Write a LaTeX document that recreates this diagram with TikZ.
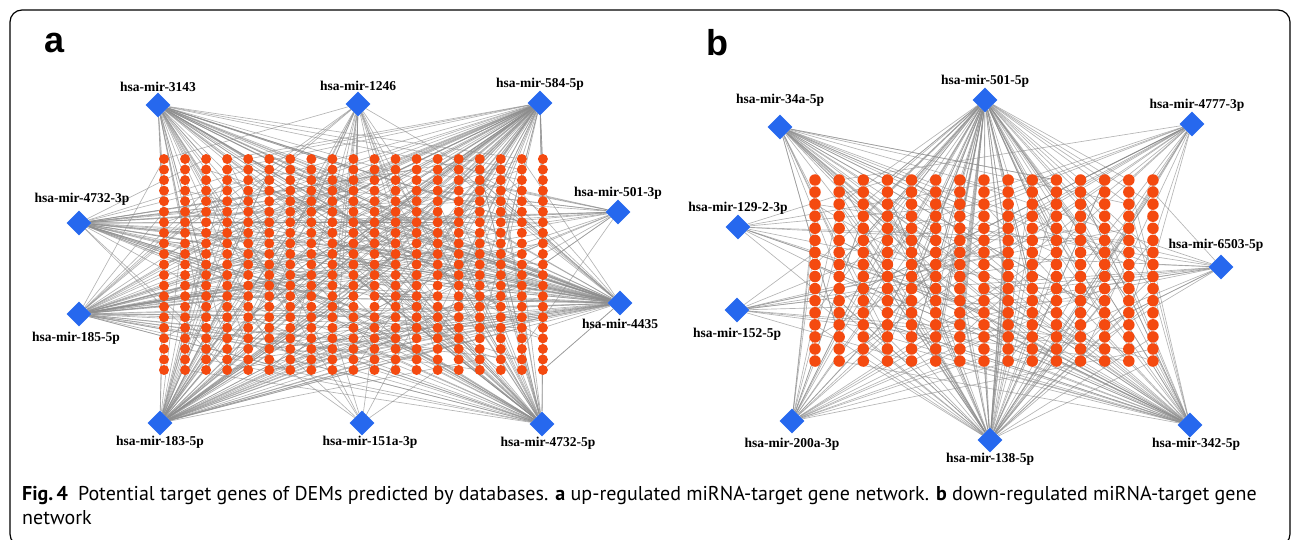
\documentclass[tikz,border=0pt]{standalone}
\usepackage{fontspec}
\setmainfont{Liberation Serif}
\newfontfamily\capfont{PT Sans}
\newfontfamily\headfont{Liberation Sans}
\usetikzlibrary{shapes.geometric,backgrounds}
\definecolor{mirblue}{RGB}{38,104,238}
\definecolor{geneorange}{RGB}{244,74,16}
\tikzset{
  mir/.style={diamond,fill=mirblue,minimum size=25pt,inner sep=0pt,label distance=5pt},
  lab/.style={font=\bfseries\fontsize{13.5}{14}\selectfont,inner sep=0pt},
  genea/.style={circle,fill=geneorange,minimum size=10pt,inner sep=0pt},
  geneb/.style={circle,fill=geneorange,minimum size=11.5pt,inner sep=0pt},
  link/.style={draw=black!45,line width=0.65pt,draw opacity=0.65},
  head/.style={font=\headfont\bfseries\fontsize{36}{36}\selectfont},
  captxt/.style={anchor=base west,inner sep=0pt,font=\capfont\fontsize{20}{24}\selectfont},
}
\begin{document}
\begin{tikzpicture}[x=1pt,y=-1pt]
\useasboundingbox (0,0) rectangle (1292,540);
\draw[line width=1.2pt,rounded corners=12pt] (10,10) rectangle (1290,546);
\pgfmathsetseed{11}

% a: up-regulated
\draw (55,43) node (heada) [head] {a};
\foreach \i in {1,...,19}
  \foreach \j in {1,...,21}
    \draw ({164+(\i-1)*21.05},{159+(\j-1)*10.55}) node (a-\i-\j) [genea] {};

\draw (158,105) node (mir3143) [mir,label={[lab]above:hsa-mir-3143}] {};
\draw (358,104) node (mir1246) [mir,label={[lab]above:hsa-mir-1246}] {};
\draw (540,103) node (mir584-5p) [mir,label={[lab]above:hsa-mir-584-5p}] {};
\draw (79,223) node (mir4732-3p) [mir,label={[lab,xshift=3pt,yshift=5pt]above:hsa-mir-4732-3p}] {};
\draw (79,314) node (mir185-5p) [mir,label={[lab,xshift=-3pt,yshift=-5pt]below:hsa-mir-185-5p}] {};
\draw (618,212) node (mir501-3p) [mir,label={[lab]above:hsa-mir-501-3p}] {};
\draw (620,303) node (mir4435) [mir,label={[lab,yshift=-3pt]below:hsa-mir-4435}] {};
\draw (160,423) node (mir183-5p) [mir,label={[lab]below:hsa-mir-183-5p}] {};
\draw (362,423) node (mir151a-3p) [mir,label={[lab,xshift=8pt]below:hsa-mir-151a-3p}] {};
\draw (542,424) node (mir4732-5p) [mir,label={[lab,xshift=6pt]below:hsa-mir-4732-5p}] {};

% b: down-regulated
\draw (717,43) node (headb) [head] {b};
\foreach \i in {1,...,15}
  \foreach \j in {1,...,16}
    \draw ({815+(\i-1)*24.14},{180+(\j-1)*12.07}) node (b-\i-\j) [geneb] {};

\draw (780,127) node (mir34a-5p) [mir,label={[lab,yshift=8pt]above:hsa-mir-34a-5p}] {};
\draw (985,100) node (mir501-5p) [mir,label={[lab]above:hsa-mir-501-5p}] {};
\draw (1192,124) node (mir4777-3p) [mir,label={[lab,xshift=5pt]above:hsa-mir-4777-3p}] {};
\draw (738,227) node (mir129-2-3p) [mir,label={[lab]above:hsa-mir-129-2-3p}] {};
\draw (1221,267) node (mir6503-5p) [mir,label={[lab,xshift=-5pt,yshift=3pt]above:hsa-mir-6503-5p}] {};
\draw (737,310) node (mir152-5p) [mir,label={[lab,yshift=-5pt]below:hsa-mir-152-5p}] {};
\draw (792,421) node (mir200a-3p) [mir,label={[lab,yshift=-4pt]below:hsa-mir-200a-3p}] {};
\draw (990,440) node (mir138-5p) [mir,label={[lab]below:hsa-mir-138-5p}] {};
\draw (1190,425) node (mir342-5p) [mir,label={[lab,xshift=6pt]below:hsa-mir-342-5p}] {};

\begin{scope}[on background layer]
  \foreach \m/\n in {mir3143/55,mir1246/26,mir584-5p/72,mir4732-3p/42,mir185-5p/55,
                     mir501-3p/20,mir4435/72,mir183-5p/72,mir151a-3p/8,mir4732-5p/60} {
    \foreach \k in {1,...,\n} {
      \pgfmathrandominteger{\col}{1}{19}
      \pgfmathrandominteger{\row}{1}{21}
      \draw[link] (\m) -- (a-\col-\row);
    }
  }
  \foreach \m/\n in {mir34a-5p/32,mir501-5p/80,mir4777-3p/24,mir129-2-3p/11,mir6503-5p/16,
                     mir152-5p/13,mir200a-3p/28,mir138-5p/62,mir342-5p/46} {
    \foreach \k in {1,...,\n} {
      \pgfmathrandominteger{\col}{1}{15}
      \pgfmathrandominteger{\row}{1}{16}
      \draw[link] (\m) -- (b-\col-\row);
    }
  }
\end{scope}

\draw (22,500) node (capone) [captxt] {\textbf{Fig.\,4}\hspace{10pt}Potential target genes of DEMs predicted by databases. \textbf{a} up-regulated miRNA-target gene network. \textbf{b} down-regulated miRNA-target gene};
\draw (22,524) node (captwo) [captxt] {network};
\end{tikzpicture}
\end{document}
